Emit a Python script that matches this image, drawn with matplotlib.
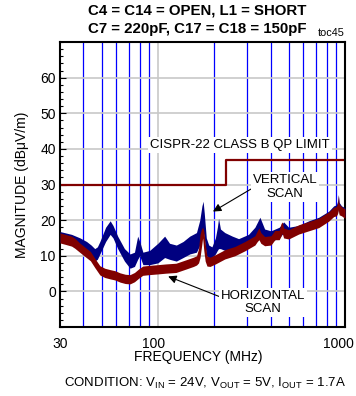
import matplotlib
matplotlib.use('Agg')
import matplotlib.pyplot as plt
import matplotlib.transforms as mtransforms
from matplotlib import font_manager
from matplotlib.ticker import FixedLocator, NullFormatter

# radiated emissions scan, vertical antenna (MHz, dBuV/m envelope)
vert_freq = [30, 34.6, 38.4, 41.6, 44, 46, 47.5, 49, 52.6, 55.6,
             57.6, 61, 66.3, 71, 75, 78, 80, 83.2, 90.4, 100,
             108.7, 115.5, 125.5, 136.4, 148, 160.8, 167.5, 172, 174.5, 177,
             181.5, 187, 194.5, 203, 208, 211, 216, 228, 250, 270,
             305, 330, 351, 372, 402, 445, 470, 500, 566, 640,
             724, 818, 870, 900, 915, 922, 930, 958, 1000]
vert_lo = [13.8, 13.0, 11.5, 11.0, 9.5, 8.5, 9.0, 10.5, 14.0, 16.0,
           15.0, 12.0, 8.5, 6.5, 7.0, 9.0, 10.0, 7.5, 7.5, 8.0,
           9.5, 9.0, 8.5, 9.5, 10.5, 11.0, 13.0, 16.0, 17.0, 15.0,
           10.0, 9.5, 9.5, 10.5, 11.5, 12.0, 12.0, 11.5, 12.0, 12.0,
           13.0, 14.5, 15.5, 14.0, 14.0, 15.0, 16.5, 15.0, 16.5, 17.5,
           18.5, 20.0, 21.5, 21.5, 22.5, 23.5, 22.0, 21.5, 21.0]
vert_hi = [16.8, 16.0, 15.0, 14.0, 13.0, 12.0, 12.5, 14.0, 18.0, 19.8,
           18.5, 15.5, 12.0, 10.5, 11.0, 15.5, 14.0, 11.0, 11.5, 13.5,
           15.5, 13.5, 13.0, 14.0, 15.5, 16.5, 20.0, 24.0, 25.3, 22.0,
           15.0, 13.0, 12.5, 15.0, 18.0, 20.5, 17.5, 16.5, 15.5, 14.8,
           16.0, 18.0, 20.8, 17.5, 17.0, 18.0, 19.5, 18.0, 18.5, 19.8,
           20.8, 22.5, 24.0, 24.3, 25.5, 27.2, 25.0, 24.0, 23.5]

# horizontal antenna
horiz_freq = [30, 32, 34.6, 36, 38.4, 41, 43.6, 46, 49, 52,
              55.6, 59, 62.8, 67, 71, 75, 79, 83, 90, 100,
              110, 125, 142, 155, 161, 165, 168, 171, 173.5, 176,
              179, 183, 190, 203, 228, 258, 292, 330, 340, 347,
              355, 372, 402, 422, 445, 455, 462, 470, 500, 566,
              640, 724, 818, 870, 900, 915, 922, 930, 958, 1000]
horiz_lo = [13.6, 13.2, 12.7, 12.1, 10.9, 9.7, 8.6, 6.7, 4.6, 3.9,
            3.5, 3.2, 2.6, 2.2, 2.1, 2.7, 3.7, 4.5, 4.7, 4.9,
            5.1, 5.3, 6.3, 7.0, 7.4, 8.0, 9.5, 12.5, 15.0, 11.5,
            8.5, 7.1, 7.0, 7.7, 9.1, 10.0, 11.4, 13.0, 14.0, 14.5,
            13.5, 12.8, 13.0, 14.5, 14.5, 15.5, 16.3, 15.0, 14.7, 16.1,
            17.0, 17.9, 19.7, 21.0, 21.2, 22.0, 23.0, 21.5, 21.2, 20.5]
horiz_hi = [16.4, 16.0, 15.5, 14.9, 13.5, 12.3, 11.2, 9.3, 7.2, 6.5,
            6.1, 5.8, 5.2, 4.8, 4.7, 5.3, 6.3, 7.1, 7.3, 7.5,
            7.7, 7.9, 8.9, 9.6, 10.0, 12.0, 16.0, 17.5, 18.0, 17.0,
            13.5, 9.9, 9.6, 10.3, 11.7, 12.6, 14.0, 15.6, 17.0, 17.8,
            16.5, 15.4, 15.6, 17.1, 17.1, 19.0, 19.5, 17.8, 17.3, 18.7,
            19.6, 20.5, 22.3, 23.6, 23.8, 25.0, 27.0, 24.5, 23.8, 23.1]

# CISPR-22 class B quasi-peak limit
limit_freq = [30, 230, 230, 1000]
limit_db = [30, 30, 37, 37]

x_major = [30, 100, 1000]
x_labels = ['30', '100', '1000']
x_minor = [40, 50, 60, 70, 80, 90, 200, 300, 400, 500, 600, 700, 800, 900]
y_major = [0, 10, 20, 30, 40, 50, 60]
y_minor = list(range(-10, 71, 2))

plt.rcParams['font.family'] = ['Liberation Sans', 'DejaVu Sans']
plt.rcParams['mathtext.fontset'] = 'custom'
plt.rcParams['mathtext.rm'] = 'Liberation Sans'
plt.rcParams['mathtext.it'] = 'Liberation Sans:italic'

installed = {f.name for f in font_manager.fontManager.ttflist}
if 'Liberation Sans Narrow' in installed:
    title_font = dict(family='Liberation Sans Narrow', size=13)
else:
    title_font = dict(family='Liberation Sans', size=10.8)

W, H = 356, 396
fig = plt.figure(figsize=(W / 100, H / 100), dpi=100)
ax = fig.add_axes([60 / W, 1 - 327 / H, 285 / W, 285 / H])

ax.set_xscale('log')
ax.set_xlim(30, 1000)
ax.set_ylim(-10, 70)

ax.xaxis.set_major_locator(FixedLocator(x_major))
ax.set_xticklabels(x_labels)
ax.xaxis.set_minor_locator(FixedLocator(x_minor))
ax.xaxis.set_minor_formatter(NullFormatter())
ax.yaxis.set_major_locator(FixedLocator(y_major))
ax.yaxis.set_minor_locator(FixedLocator(y_minor))

ax.grid(which='major', axis='both', color='#c8c8c8', lw=1.2)
ax.grid(which='minor', axis='x', color='#0000ff', lw=0.9)
ax.set_axisbelow(True)

ax.tick_params(axis='x', which='both', length=0, pad=7, labelsize=10)
ax.tick_params(axis='y', which='major', direction='in', length=4, width=0.8,
               pad=3, labelsize=10)
ax.tick_params(axis='y', which='minor', direction='in', length=2.5, width=0.8)
for s in ax.spines.values():
    s.set_linewidth(1.5)

# pull the 100 and 1000 labels a little to the left
for lab, dx in zip(ax.get_xticklabels(), [0, -4, -7]):
    lab.set_transform(lab.get_transform() +
                      mtransforms.ScaledTranslation(dx / 100, 0, fig.dpi_scale_trans))

ax.plot(limit_freq, limit_db, color='#800000', lw=1.6, zorder=2)
ax.fill_between(vert_freq, vert_lo, vert_hi, color='#000080', lw=0, zorder=3)
ax.fill_between(horiz_freq, horiz_lo, horiz_hi, color='#800000', lw=0, zorder=4)

box = dict(boxstyle='square,pad=0.15', fc='white', ec='none')
ax.text(275, 41.2, 'CISPR-22 CLASS B QP LIMIT', ha='center', va='center',
        fontsize=9.5, bbox=box, zorder=5)
ax.annotate('VERTICAL\nSCAN', xy=(197, 22.4), xytext=(479, 29.4),
            ha='center', va='center', fontsize=9.5, bbox=box, zorder=5,
            arrowprops=dict(arrowstyle='-|>', color='black', lw=0.8,
                            mutation_scale=12, shrinkA=0, shrinkB=0,
                            relpos=(0.0, 0.45)))
ax.annotate('HORIZONTAL\nSCAN', xy=(113.5, 4.2), xytext=(366, -3.1),
            ha='center', va='center', fontsize=9.5, bbox=box, zorder=5,
            arrowprops=dict(arrowstyle='-|>', color='black', lw=0.8,
                            mutation_scale=12, shrinkA=0, shrinkB=0,
                            relpos=(0.0, 0.7)))

fig.text(197 / W, 1 - 10.5 / H, 'C4 = C14 = OPEN, L1 = SHORT', ha='center',
         va='center', fontweight='bold', **title_font)
fig.text(197 / W, 1 - 29.5 / H, 'C7 = 220pF, C17 = C18 = 150pF', ha='center',
         va='center', fontweight='bold', **title_font)
fig.text(345 / W, 1 - 33 / H, 'toc45', ha='right', va='center', fontsize=7.8)

fig.text(22 / W, 1 - 185 / H, 'MAGNITUDE (dB\u03bcV/m)', rotation=90,
         ha='center', va='center', fontsize=10)
fig.text(198 / W, 1 - 357 / H, 'FREQUENCY (MHz)', ha='center', va='center',
         fontsize=10)
fig.text(205 / W, 1 - 383 / H,
         r'CONDITION: V$_{\mathrm{IN}}$ = 24V, V$_{\mathrm{OUT}}$ = 5V, '
         r'I$_{\mathrm{OUT}}$ = 1.7A', ha='center', va='center', fontsize=9.5)

fig.savefig('out.png', dpi=100)
